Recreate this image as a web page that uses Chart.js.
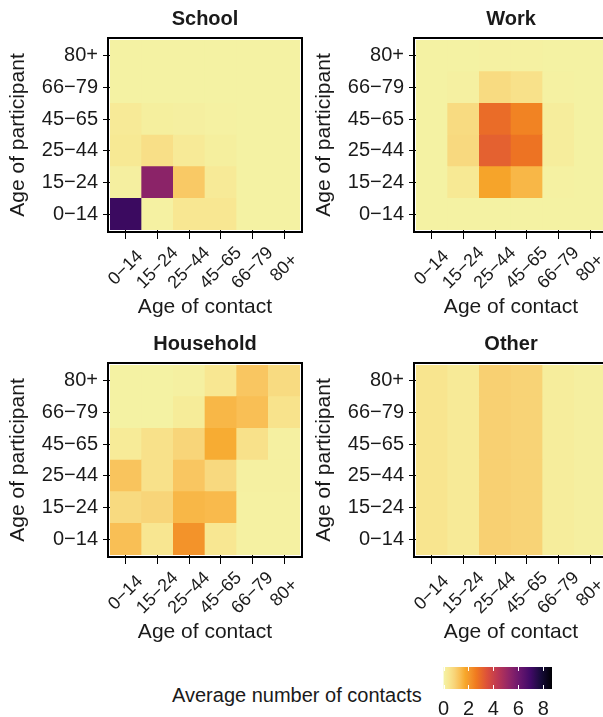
<!DOCTYPE html>
<html>
<head>
<meta charset="utf-8">
<script src="https://cdn.jsdelivr.net/npm/chart.js@4.4.1/dist/chart.umd.min.js"></script>
<style>
  html, body { margin: 0; padding: 0; background: #fff; width: 603px; height: 717px; overflow: hidden; }
  .panel { position: absolute; width: 305px; height: 325px; }
  #legendBox { position: absolute; left: 430px; top: 650px; width: 173px; height: 67px; }
  #legendTitle {
    position: absolute; left: 172px; top: 683px;
    font: 20px "Liberation Sans", Arial, Helvetica, sans-serif; line-height: 24px; color: #1a1a1a;
    white-space: nowrap;
  }
</style>
</head>
<body>
<div class="panel" style="left:0;top:0"><canvas id="school"></canvas></div>
<div class="panel" style="left:306px;top:0"><canvas id="work"></canvas></div>
<div class="panel" style="left:0;top:325px"><canvas id="household"></canvas></div>
<div class="panel" style="left:306px;top:325px"><canvas id="other"></canvas></div>
<div id="legendTitle">Average number of contacts</div>
<div id="legendBox"><canvas id="legend"></canvas></div>

<script>
"use strict"

// DATA
// rows = age of participant (0-14 at the bottom), columns = age of contact
const ageGroups = ['0\u221214', '15\u221224', '25\u221244', '45\u221265', '66\u221279', '80+'];

const school = [
  [7.1, 0.08, 0.4, 0.4, 0.05, 0.05],
  [0.12, 5.4, 1.1, 0.3, 0.05, 0.05],
  [0.35, 0.6, 0.3, 0.15, 0.05, 0.05],
  [0.3, 0.15, 0.12, 0.08, 0.05, 0.05],
  [0.05, 0.05, 0.05, 0.05, 0.05, 0.05],
  [0.05, 0.05, 0.05, 0.05, 0.05, 0.05]
];

const work = [
  [0.05, 0.05, 0.05, 0.05, 0.05, 0.05],
  [0.05, 0.35, 1.8, 1.45, 0.08, 0.05],
  [0.05, 0.75, 3.15, 2.75, 0.2, 0.05],
  [0.05, 0.7, 2.9, 2.45, 0.2, 0.05],
  [0.05, 0.1, 0.7, 0.55, 0.08, 0.05],
  [0.05, 0.05, 0.08, 0.08, 0.05, 0.05]
];

const household = [
  [1.3, 0.42, 2.15, 0.4, 0.08, 0.08],
  [0.72, 0.85, 1.45, 1.4, 0.08, 0.08],
  [1.2, 0.55, 1.15, 0.75, 0.1, 0.1],
  [0.28, 0.55, 0.85, 1.65, 0.55, 0.1],
  [0.05, 0.05, 0.25, 1.45, 1.3, 0.5],
  [0.05, 0.05, 0.1, 0.4, 1.15, 0.7]
];

const other = [
  [0.45, 0.3, 0.95, 0.9, 0.2, 0.12],
  [0.45, 0.3, 0.95, 0.9, 0.2, 0.12],
  [0.45, 0.3, 0.95, 0.9, 0.2, 0.12],
  [0.45, 0.3, 0.95, 0.9, 0.2, 0.12],
  [0.45, 0.3, 0.95, 0.9, 0.2, 0.12],
  [0.45, 0.3, 0.95, 0.9, 0.2, 0.12]
];

const legendTicks = [0, 2, 4, 6, 8];
const legendMax = 8.7;

// reversed inferno-like ramp (position 0..1 of legendMax)
const paletteStops = [0, 0.05, 0.1, 0.15, 0.2, 0.25, 0.3, 0.4, 0.5, 0.6, 0.7, 0.8, 0.9, 1];
const paletteColors = ['#f4f3a6', '#f8e690', '#f8d478', '#f9bf55', '#f7a72a', '#f3922a', '#f07a1f',
                       '#dd513a', '#bc3754', '#932667', '#6a176e', '#420a68', '#160b39', '#000004'];

const FONT = '"Liberation Sans", Arial, Helvetica, sans-serif';
const TEXT = '#1a1a1a';
Chart.defaults.font.family = FONT;
Chart.defaults.color = TEXT;

function hexRgb(h) {
  return [1, 3, 5].map(i => parseInt(h.slice(i, i + 2), 16));
}

function colorFor(v) {
  const s = Math.min(Math.max(v / legendMax, 0), 1);
  let i = 0;
  while (i < paletteStops.length - 2 && s > paletteStops[i + 1]) i++;
  const f = (s - paletteStops[i]) / (paletteStops[i + 1] - paletteStops[i]);
  const a = hexRgb(paletteColors[i]), b = hexRgb(paletteColors[i + 1]);
  const c = a.map((x, k) => Math.round(x + (b[k] - x) * f));
  return 'rgb(' + c.join(',') + ')';
}

// frame, title and centred 45 degree labels on x
const panelPlugin = {
  id: 'panelFrame',
  afterDraw(chart) {
    const ctx = chart.ctx;
    const a = chart.chartArea;
    const xs = chart.scales.x;
    ctx.save();
    ctx.strokeStyle = '#000';
    ctx.lineWidth = 2;
    ctx.strokeRect(a.left - 2, a.top - 2, a.width + 4, a.height + 4);

    ctx.fillStyle = TEXT;
    ctx.textAlign = 'center';
    ctx.textBaseline = 'middle';
    ctx.font = 'bold 20px ' + FONT;
    ctx.fillText(chart.options.panelTitle, (a.left + a.right) / 2, 19);

    ctx.font = '18px ' + FONT;
    ageGroups.forEach((g, i) => {
      ctx.save();
      ctx.translate(xs.getPixelForTick(i), a.bottom + 38);
      ctx.rotate(-Math.PI / 4);
      ctx.fillText(g, 0, 0);
      ctx.restore();
    });
    ctx.restore();
  }
};

function makePanel(id, title, matrix) {
  const datasets = ageGroups.map((g, r) => ({
    label: g,
    data: ageGroups.map(() => 1),
    backgroundColor: matrix[r].map(colorFor),
    borderWidth: 0,
    barPercentage: 1,
    categoryPercentage: 1
  }));

  return new Chart(document.getElementById(id), {
    type: 'bar',
    data: { labels: ageGroups, datasets },
    options: {
      panelTitle: title,
      animation: false,
      responsive: true,
      maintainAspectRatio: false,
      devicePixelRatio: 1,
      layout: { padding: { left: 0, right: 5, top: 40, bottom: 0 } },
      plugins: {
        legend: { display: false },
        tooltip: { enabled: false },
        title: { display: false }
      },
      scales: {
        x: {
          stacked: true,
          offset: true,
          grid: { display: true, offset: false, drawOnChartArea: false, tickLength: 9, color: '#000', lineWidth: 1 },
          border: { display: false },
          ticks: { display: false, autoSkip: false },
          title: { display: true, text: 'Age of contact', font: { size: 21 }, color: TEXT, padding: { top: 0, bottom: 5 } },
          afterFit: s => { s.height = 95; }
        },
        y: {
          stacked: true,
          min: 0,
          max: ageGroups.length,
          afterBuildTicks: s => { s.ticks = ageGroups.map((g, i) => ({ value: i + 0.5 })); },
          grid: { display: true, drawOnChartArea: false, tickLength: 7, color: '#000', lineWidth: 1 },
          border: { display: false },
          ticks: {
            font: { size: 20 },
            color: TEXT,
            padding: 5,
            callback: v => ageGroups[Math.floor(v)]
          },
          title: { display: true, text: 'Age of participant', font: { size: 21 }, color: TEXT, padding: { top: 6, bottom: 0 } },
          afterFit: s => { s.width = 110; }
        }
      }
    },
    plugins: [panelPlugin]
  });
}

makePanel('school', 'School', school);
makePanel('work', 'Work', work);
makePanel('household', 'Household', household);
makePanel('other', 'Other', other);

// COLOUR BAR
const colorbarPlugin = {
  id: 'colorbar',
  beforeDatasetsDraw(chart) {
    const ctx = chart.ctx;
    const a = chart.chartArea;
    const xs = chart.scales.x;
    const grad = ctx.createLinearGradient(xs.getPixelForValue(0), 0, xs.getPixelForValue(legendMax), 0);
    paletteStops.forEach((p, i) => grad.addColorStop(p, paletteColors[i]));
    ctx.save();
    ctx.fillStyle = grad;
    ctx.fillRect(a.left, a.top, a.width, a.height);
    ctx.strokeStyle = '#fff';
    ctx.lineWidth = 1;
    legendTicks.forEach(v => {
      const x = Math.round(xs.getPixelForValue(v)) + 0.5;
      ctx.beginPath();
      ctx.moveTo(x, a.top); ctx.lineTo(x, a.top + 4);
      ctx.moveTo(x, a.bottom - 4); ctx.lineTo(x, a.bottom);
      ctx.stroke();
    });
    ctx.restore();
  }
};

new Chart(document.getElementById('legend'), {
  type: 'scatter',
  data: { datasets: [] },
  options: {
    animation: false,
    responsive: true,
    maintainAspectRatio: false,
    devicePixelRatio: 1,
    layout: { padding: { left: 9, right: 51, top: 17, bottom: 0 } },
    plugins: { legend: { display: false }, tooltip: { enabled: false } },
    scales: {
      x: {
        type: 'linear',
        min: 0,
        max: legendMax,
        afterBuildTicks: s => { s.ticks = legendTicks.map(v => ({ value: v })); },
        grid: { display: false, drawTicks: false },
        border: { display: false },
        ticks: { font: { size: 20 }, color: TEXT, padding: 8 },
        afterFit: s => { s.height = 28; }
      },
      y: { display: false, min: 0, max: 1 }
    }
  },
  plugins: [colorbarPlugin]
});
</script>
</body>
</html>
